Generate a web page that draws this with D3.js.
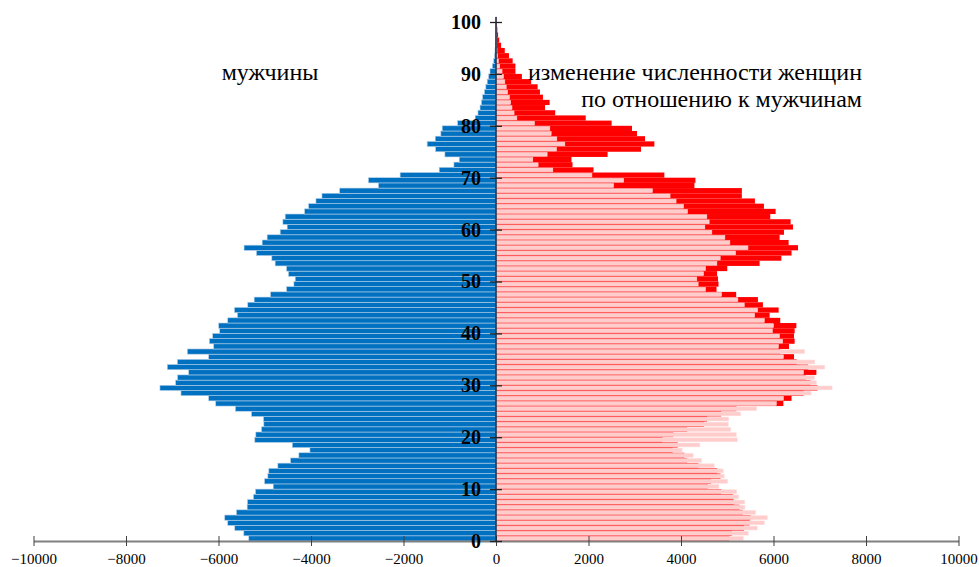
<!DOCTYPE html>
<html><head><meta charset="utf-8">
<script src="https://cdn.jsdelivr.net/npm/d3@7"></script>
<style>body{margin:0;background:#fff}svg{display:block}</style>
</head><body>
<svg id="c" width="979" height="567"></svg>
<script>
const ages = [0,1,2,3,4,5,6,7,8,9,10,11,12,13,14,15,16,17,18,19,20,21,22,23,24,25,26,27,28,29,30,31,32,33,34,35,36,37,38,39,40,41,42,43,44,45,46,47,48,49,50,51,52,53,54,55,56,57,58,59,60,61,62,63,64,65,66,67,68,69,70,71,72,73,74,75,76,77,78,79,80,81,82,83,84,85,86,87,88,89,90,91,92,93,94,95,96,97,98,99,100];
const males = [-5345,-5453,-5648,-5800,-5865,-5612,-5380,-5374,-5244,-5200,
 -4817,-5005,-4933,-4912,-4717,-4442,-4262,-4023,-4405,-5215,
 -5193,-5070,-5020,-5027,-5287,-5634,-6060,-6212,-6811,-7266,
 -6927,-6884,-6645,-7107,-6890,-6212,-6674,-6104,-6197,-6126,
 -5974,-5996,-5800,-5590,-5655,-5367,-5229,-4875,-4528,-4370,
 -4341,-4486,-4529,-4775,-4847,-5179,-5447,-5056,-4948,-4666,
 -4515,-4608,-4558,-4139,-4052,-3893,-3763,-3380,-2542,-2759,
 -2073,-1228,-910,-795,-1105,-1307,-1488,-1314,-1192,-1163,
 -831,-450,-390,-345,-315,-290,-250,-220,-190,-160,
 -130,-80,-50,-32,-22,-15,-10,-7,-5,-3,-2];
const females = [5049,5100,5360,5482,5504,5338,5266,5143,5128,4868,
 4579,4651,4854,4782,4377,4131,4073,3820,3928,3600,
 3835,4131,4493,4565,4868,5200,6213,6390,6650,6950,
 6800,6700,6927,6750,6500,6443,6150,6335,6457,6443,
 6457,6494,6146,5916,6111,5771,5663,5193,4768,4811,
 4800,4780,5000,5700,6170,6390,6530,6327,6132,6226,
 6421,6370,5930,6046,5793,5598,5316,5316,4290,4312,
 3640,2109,1654,1632,2413,3135,3424,3222,3048,2940,
 2500,1940,1280,1060,1160,1015,950,900,760,560,
 420,420,360,280,190,110,70,45,30,20,10];
const xTicks = [-10000,-8000,-6000,-4000,-2000,0,2000,4000,6000,8000,10000];
const yTicks = [0,10,20,30,40,50,60,70,80,90,100];
const labelMen = "мужчины";
const labelWomen1 = "изменение численности женщин";
const labelWomen2 = "по отношению к мужчинам";

const tf = "'Liberation Serif','Times New Roman',serif";
const svg = d3.select("#c");
const x = d3.scaleLinear().domain([-10000,10000]).range([33.5,958.5]);
const y = d3.scaleLinear().domain([0,100]).range([541,22]);
const bh = y(0) - y(1);

// female bars (red) underneath
svg.append("g").selectAll("rect").data(ages).join("rect")
  .attr("x", x(0))
  .attr("y", d => y(d+1))
  .attr("width", d => x(females[d]) - x(0))
  .attr("height", bh)
  .attr("fill", "#ff0000");

// male mirrored (pink) on top
svg.append("g").selectAll("rect").data(ages).join("rect")
  .attr("x", x(0))
  .attr("y", d => y(d+1) + 0.7)
  .attr("width", d => x(-males[d]) - x(0))
  .attr("height", bh - 1.4)
  .attr("fill", "#ffcccc")
  .attr("stroke", "#ffd9d9")
  .attr("stroke-width", 0.6);

// male bars (blue)
svg.append("g").selectAll("rect").data(ages).join("rect")
  .attr("x", d => x(males[d]))
  .attr("y", d => y(d+1))
  .attr("width", d => x(0) - x(males[d]))
  .attr("height", bh)
  .attr("fill", "#0070c0")
  .attr("stroke", "#b4cfe8")
  .attr("stroke-width", 0.6);

// x axis
const xa = svg.append("g").attr("transform", `translate(0,${y(0)})`)
  .call(d3.axisBottom(x).tickValues(xTicks).tickSize(0).tickPadding(12).tickFormat(d3.format("d")));
xa.select(".domain").attr("stroke", "#808080").attr("stroke-width", 2);
xa.selectAll(".tick line").remove();
xa.selectAll(".tick").append("line").attr("y1", -5).attr("y2", 5).attr("stroke", "#404040").attr("stroke-width", 1);
xa.selectAll("text").attr("font-family", tf).attr("font-size", 15).attr("fill", "#000");

// y axis
const ya = svg.append("g").attr("transform", `translate(${x(0)},0)`)
  .call(d3.axisLeft(y).tickValues(yTicks).tickSize(0).tickPadding(15).tickFormat(d3.format("d")));
ya.select(".domain").attr("d", `M0,${y(0)}V${y(100)-5}`).attr("stroke", "#1a2a40").attr("stroke-width", 1.5);
ya.selectAll(".tick").append("line").attr("x1", -6).attr("x2", 6).attr("stroke", "#222").attr("stroke-width", 1.3);
ya.selectAll("text").attr("font-family", tf).attr("font-size", 20).attr("font-weight", "bold").attr("fill", "#000");

// labels
svg.append("text").attr("x", 270).attr("y", 80).attr("text-anchor", "middle")
  .attr("font-family", tf).attr("font-size", 24).text(labelMen);
svg.append("text").attr("x", 862).attr("y", 80).attr("text-anchor", "end")
  .attr("font-family", tf).attr("font-size", 24).text(labelWomen1);
svg.append("text").attr("x", 862).attr("y", 107).attr("text-anchor", "end")
  .attr("font-family", tf).attr("font-size", 24).text(labelWomen2);
</script>
</body></html>
